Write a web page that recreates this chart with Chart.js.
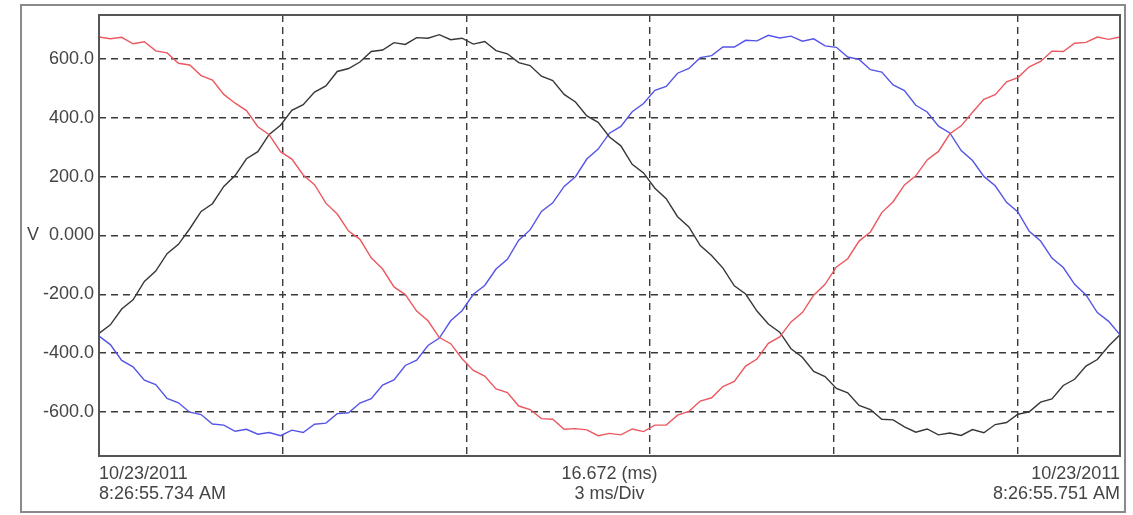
<!DOCTYPE html>
<html>
<head>
<meta charset="utf-8">
<script src="https://cdn.jsdelivr.net/npm/chart.js@4.4.1/dist/chart.umd.min.js"></script>
<style>
    html, body { margin: 0; padding: 0; background: #fff; }
    canvas { display: block; }
</style>
</head>
<body>
<canvas id="scope" width="1133" height="515"></canvas>
<script>
    // record window (ms) and sample clock
    const windowMs = 16.672;
    const sampleCount = 91;
    const sampleStepMs = windowMs / (sampleCount - 1);

    // one sample every ~0.185 ms
    const phaseRed = [
        675, 669, 674, 652, 659, 628, 621, 586, 580, 544,
        529, 480, 450, 425, 370, 343, 285, 260, 206, 173,
        110, 73, 15, -13, -76, -114, -175, -201, -257, -290,
        -347, -368, -419, -459, -478, -522, -534, -580, -592, -623,
        -625, -659, -657, -661, -681, -673, -678, -658, -667, -645,
        -645, -611, -598, -563, -552, -514, -496, -444, -420, -367,
        -345, -294, -262, -203, -166, -107, -79, -19, 12, 78,
        115, 172, 203, 257, 286, 346, 373, 419, 463, 479,
        523, 537, 574, 592, 627, 626, 654, 657, 675, 667,
        675,
    ];
    const phaseBlack = [
        -333, -304, -250, -219, -156, -121, -62, -30, 23, 82,
        108, 167, 204, 261, 285, 344, 375, 426, 445, 488,
        509, 558, 568, 590, 626, 631, 656, 650, 673, 671,
        683, 666, 671, 651, 660, 629, 618, 588, 578, 542,
        527, 480, 454, 407, 385, 335, 305, 242, 213, 161,
        125, 64, 29, -34, -68, -111, -171, -199, -257, -301,
        -329, -385, -414, -462, -480, -520, -535, -578, -592, -625,
        -627, -651, -669, -658, -678, -672, -680, -660, -671, -643,
        -636, -608, -600, -567, -556, -510, -489, -444, -422, -376,
        -338,
    ];
    const phaseBlue = [
        -342, -371, -425, -447, -492, -507, -554, -569, -601, -609,
        -641, -645, -666, -659, -676, -670, -681, -662, -670, -642,
        -638, -606, -603, -570, -555, -509, -491, -442, -424, -374,
        -349, -290, -256, -200, -170, -114, -81, -16, 19, 82,
        111, 167, 200, 260, 294, 348, 371, 421, 449, 494,
        507, 552, 568, 605, 612, 641, 641, 664, 662, 681,
        672, 678, 661, 669, 645, 640, 607, 599, 564, 556,
        512, 493, 443, 420, 372, 349, 289, 255, 201, 169,
        113, 80, 14, -19, -77, -109, -166, -202, -262, -292,
        -338,
    ];

    const yTicks = [-600, -400, -200, 0, 200, 400, 600];
    const xGridMs = [0, 3, 6, 9, 12, 15];
    const footerLeft = ['10/23/2011', '8:26:55.734 AM'];
    const footerMid = ['16.672 (ms)', '3 ms/Div'];
    const footerRight = ['10/23/2011', '8:26:55.751 AM'];

    const gridColor = '#3a3a3a';
    const textColor = '#444';
    const font = { family: 'Liberation Sans, Arial, sans-serif', size: 18, lineHeight: 1.1 };

    function toPoints(values) {
        return values.map((v, i) => ({ x: i * sampleStepMs, y: v }));
    }

    // plot box plus the outer instrument frame
    const framePlugin = {
        id: 'frame',
        beforeDraw(chart) {
            const ctx = chart.ctx;
            ctx.save();
            ctx.strokeStyle = '#8a8a8a';
            ctx.lineWidth = 2;
            ctx.strokeRect(21, 5, 1104, 507);
            ctx.restore();
        },
        afterDraw(chart) {
            const a = chart.chartArea;
            const ctx = chart.ctx;
            ctx.save();
            ctx.strokeStyle = '#555';
            ctx.lineWidth = 2;
            ctx.strokeRect(a.left, a.top, a.right - a.left, a.bottom - a.top);
            ctx.restore();
        },
    };

    const dashGrid = {
        color: gridColor,
        lineWidth: 1.4,
        drawTicks: false,
    };

    new Chart(document.getElementById('scope'), {
        type: 'line',
        data: {
            datasets: [
                { label: 'Phase A', data: toPoints(phaseRed), borderColor: 'rgb(236, 88, 96)' },
                { label: 'Phase B', data: toPoints(phaseBlack), borderColor: 'rgb(55, 55, 55)' },
                { label: 'Phase C', data: toPoints(phaseBlue), borderColor: 'rgb(84, 84, 232)' },
            ],
        },
        options: {
            responsive: false,
            animation: false,
            parsing: false,
            elements: {
                point: { radius: 0 },
                line: { borderWidth: 1.4, tension: 0 },
            },
            layout: { padding: { left: 20, top: 15, right: 13, bottom: 0 } },
            plugins: {
                legend: { display: false },
                tooltip: { enabled: false },
            },
            scales: {
                x: {
                    type: 'linear',
                    min: 0,
                    max: windowMs,
                    afterBuildTicks: (s) => { s.ticks = xGridMs.map((v) => ({ value: v })); },
                    afterFit: (s) => { s.height = 0; },
                    ticks: { display: false },
                    grid: dashGrid,
                    border: { display: false, dash: [7, 5] },
                },
                footer: {
                    type: 'linear',
                    position: 'bottom',
                    min: 0,
                    max: windowMs,
                    afterBuildTicks: (s) => {
                        s.ticks = [0, windowMs / 2, windowMs].map((v) => ({ value: v }));
                    },
                    afterFit: (s) => { s.height = 59; },
                    grid: { display: false, drawTicks: false },
                    border: { display: false },
                    ticks: {
                        align: 'inner',
                        autoSkip: false,
                        maxRotation: 0,
                        padding: 8,
                        color: textColor,
                        font: font,
                        callback: (v, i) => [footerLeft, footerMid, footerRight][i],
                    },
                },
                y: {
                    min: -750,
                    max: 750,
                    afterBuildTicks: (s) => { s.ticks = yTicks.map((v) => ({ value: v })); },
                    afterFit: (s) => { s.width = 79; },
                    grid: dashGrid,
                    border: { display: false, dash: [7, 5] },
                    ticks: {
                        padding: 5,
                        color: textColor,
                        font: font,
                        callback: (v) => (v === 0 ? 'V  0.000' : v.toFixed(1)),
                    },
                },
            },
        },
        plugins: [framePlugin],
    });
</script>
</body>
</html>
